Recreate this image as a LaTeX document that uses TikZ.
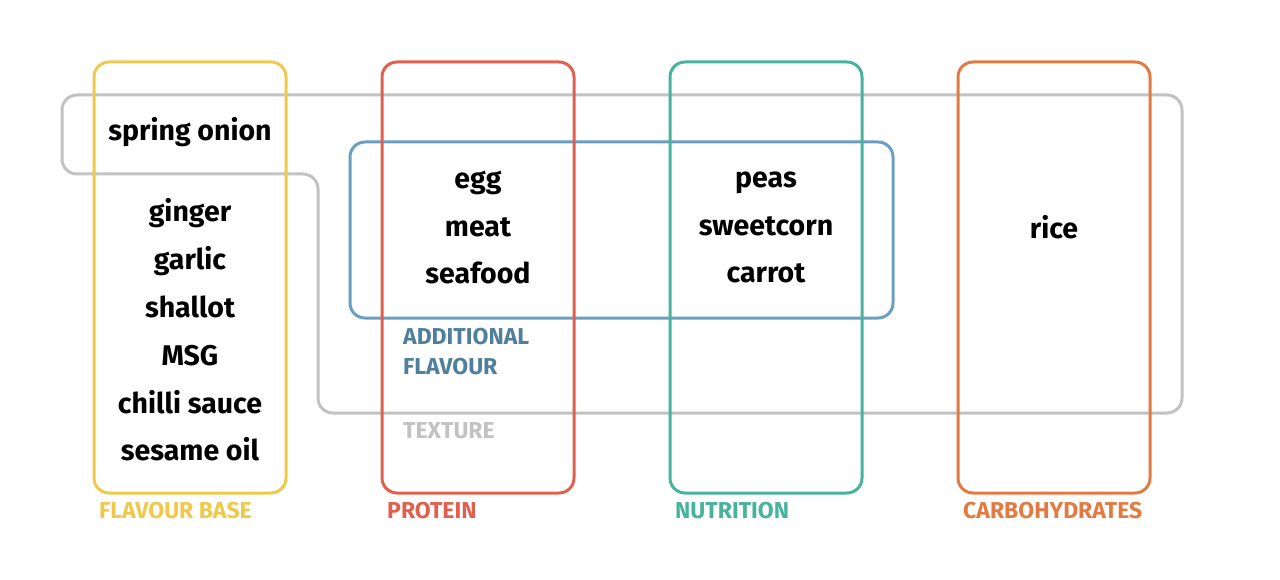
\documentclass[tikz,border=0pt]{standalone}
\usepackage{fontspec}
\setmainfont{Fira Sans}
\definecolor{cyellow}{HTML}{EFC94C}
\definecolor{cred}{HTML}{E0604D}
\definecolor{cteal}{HTML}{48B39C}
\definecolor{corange}{HTML}{E27B42}
\definecolor{cblue}{HTML}{6A9FC1}
\definecolor{cbluetext}{HTML}{4F7F9C}
\definecolor{cgrey}{HTML}{C2C2C2}
\tikzset{
  box/.style={draw, line width=3pt, rounded corners=15pt, minimum width=192pt, minimum height=431pt, inner sep=0pt},
  item/.style={font=\bfseries\fontsize{28.5}{47.8}\selectfont, align=center, text=black, inner sep=0pt},
  lab/.style={font=\bfseries\fontsize{23}{30}\selectfont, anchor=west, align=left, inner sep=0pt}
}
\begin{document}
\begin{tikzpicture}[x=1pt,y=-1pt]
\useasboundingbox (0,0) rectangle (1280,580);
% texture (grey) shape
\coordinate (g1) at (62,135);
\coordinate (g2) at (62,95);
\coordinate (g3) at (1182,95);
\coordinate (g4) at (1182,413);
\coordinate (g5) at (318,413);
\coordinate (g6) at (318,174);
\coordinate (g7) at (62,174);
\draw[cgrey, line width=3pt, rounded corners=15pt] (g1) -- (g2) -- (g3) -- (g4) -- (g5) -- (g6) -- (g7) -- cycle;
% additional flavour (blue)
\node[box, draw=cblue, minimum width=543pt, minimum height=176pt] (af) at (621.5,230) {};
% category boxes
\node[box, draw=cyellow] (fb) at (190,277.5) {};
\node[box, draw=cred] (pr) at (478,277.5) {};
\node[box, draw=cteal] (nu) at (766,277.5) {};
\node[box, draw=corange] (ca) at (1054,277.5) {};
% items
\node[item] (so) at (190,132.5) {spring onion};
\node[item] (fbl) at (190,330) {ginger\\garlic\\shallot\\MSG\\chilli sauce\\sesame oil};
\node[item] (prl) at (478,227.5) {egg\\meat\\seafood};
\node[item] (nul) at (766,227.5) {peas\\sweetcorn\\carrot};
\node[item] (cal) at (1054,227) {rice};
% labels
\node[lab, text=cbluetext, anchor=north west] (afl) at (403,328) {ADDITIONAL\\FLAVOUR};
\node[lab, text=cgrey] (txl) at (403,431) {TEXTURE};
\node[lab, text=cyellow] (fbt) at (99,511) {FLAVOUR BASE};
\node[lab, text=cred] (prt) at (387,511) {PROTEIN};
\node[lab, text=cteal] (nut) at (675,511) {NUTRITION};
\node[lab, text=corange] (cat) at (963,511) {CARBOHYDRATES};
\end{tikzpicture}
\end{document}
